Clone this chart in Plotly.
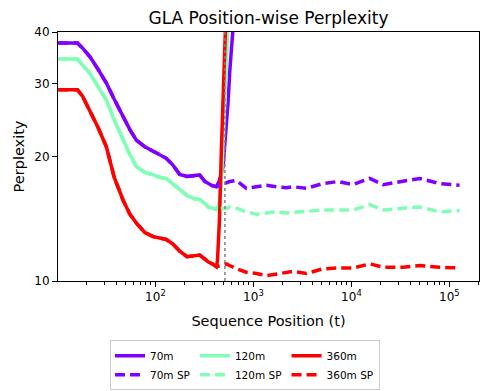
import plotly.graph_objects as go

# positions before the training context (solid and SP share these)
x_early = [10.2, 16, 18, 21.4, 26, 31.6, 38, 46.7, 55, 64, 78, 95, 112, 129, 150,
           177, 210, 250, 283, 320, 344, 380, 419]
ppl_70m_early = [37.6, 37.6, 36.6, 34.9, 32.5, 30.1, 27.5, 25.0, 23.2, 21.9, 21.1, 20.6,
                 20.2, 19.8, 19.1, 18.1, 17.9, 18.0, 18.05, 17.4, 17.2, 17.0, 16.9]
ppl_120m_early = [34.4, 34.4, 33.3, 31.8, 29.5, 27.4, 24.5, 21.9, 20.2, 18.9, 18.3, 18.05,
                  17.8, 17.7, 17.2, 16.6, 16.1, 15.8, 15.75, 15.4, 15.1, 15.0, 14.9]
ppl_360m_early = [29.0, 29.0, 28.0, 25.9, 23.5, 21.1, 17.8, 15.7, 14.5, 13.8, 13.1, 12.8,
                  12.7, 12.6, 12.3, 11.8, 11.45, 11.5, 11.55, 11.3, 11.13, 11.0, 10.83]

# solid lines blow up past the context length
x_spike_70m = [450, 490, 520, 551, 573, 620, 700]
ppl_70m_spike = [17.5, 18.9, 22.5, 27.0, 32.0, 40.0, 60.0]
x_spike_120m = [440, 470, 500, 530, 550, 600]
ppl_120m_spike = [15.2, 17.0, 24.0, 34.0, 42.0, 70.0]
x_spike_360m = [430, 450, 471, 495, 521, 560]
ppl_360m_spike = [11.2, 14.0, 20.7, 30.0, 40.0, 70.0]

# SP continuation out to 128k
x_late = [530, 573, 670, 849, 1075, 1360, 1720, 2170, 2540, 3475, 5130, 7300, 10370,
          15400, 21000, 33650, 49800, 79600, 127000]
ppl_70m_late = [17.3, 17.4, 17.5, 16.75, 16.9, 17.05, 16.9, 16.8, 16.9, 16.75, 17.2, 17.4,
                17.1, 17.7, 17.1, 17.4, 17.7, 17.2, 17.05]
ppl_120m_late = [15.0, 15.1, 15.0, 14.7, 14.5, 14.6, 14.7, 14.6, 14.65, 14.7, 14.85, 14.85,
                 14.85, 15.3, 14.85, 15.0, 15.1, 14.7, 14.8]
ppl_360m_late = [11.0, 10.9, 10.7, 10.5, 10.43, 10.3, 10.4, 10.5, 10.55, 10.43, 10.7, 10.75,
                 10.75, 11.0, 10.8, 10.8, 10.9, 10.8, 10.75]

context_len = 512
y_ticks = [10, 20, 30, 40]
x_ticks = [100, 1000, 10000, 100000]
x_ticktext = ["10<sup>2</sup>", "10<sup>3</sup>", "10<sup>4</sup>", "10<sup>5</sup>"]

models = ["70m", "120m", "360m"]
colors = {"70m": "#8000ff", "120m": "#80ffb4", "360m": "#ff0000"}
early = {"70m": ppl_70m_early, "120m": ppl_120m_early, "360m": ppl_360m_early}
spike_x = {"70m": x_spike_70m, "120m": x_spike_120m, "360m": x_spike_360m}
spike_y = {"70m": ppl_70m_spike, "120m": ppl_120m_spike, "360m": ppl_360m_spike}
late = {"70m": ppl_70m_late, "120m": ppl_120m_late, "360m": ppl_360m_late}

fig = go.Figure()
for m in models:
    fig.add_trace(go.Scatter(x=x_early + spike_x[m], y=early[m] + spike_y[m], mode="lines",
                             name=m, legendgroup=m,
                             line=dict(color=colors[m], width=3.5)))
for m in models:
    fig.add_trace(go.Scatter(x=x_early + x_late, y=early[m] + late[m], mode="lines",
                             name=m + " SP", legendgroup=m,
                             line=dict(color=colors[m], width=3.5, dash="10px,5px")))

fig.add_trace(go.Scatter(x=[context_len, context_len], y=[y_ticks[0], y_ticks[-1]],
                         mode="lines", showlegend=False, hoverinfo="skip",
                         line=dict(color="gray", width=1.5, dash="dot")))

minor_x = [m * 10 ** d for d in range(1, 6) for m in range(2, 10)]

fig.update_layout(
    width=490, height=391,
    margin=dict(l=58, r=11, t=32, b=110, autoexpand=False),
    paper_bgcolor="white", plot_bgcolor="white",
    font=dict(family="DejaVu Sans", color="black", size=12),
    title=dict(text="GLA Position-wise Perplexity", x=0.548, xanchor="center",
               y=0.954, yanchor="middle", font=dict(size=17)),
    legend=dict(orientation="h", traceorder="grouped", tracegroupgap=24, itemwidth=30,
                xref="container", yref="container",
                x=0.5, xanchor="center", y=0.13, yanchor="top",
                bordercolor="#cccccc", borderwidth=1, font=dict(size=10.5)),
)
fig.update_xaxes(type="log", range=[1.006, 5.302], tickvals=x_ticks, ticktext=x_ticktext,
                 showline=True, linecolor="black", mirror=True, showgrid=False,
                 ticks="outside", ticklen=5, tickcolor="black", automargin=False,
                 minor=dict(tickvals=minor_x, ticks="outside", ticklen=3, tickcolor="black"),
                 title=dict(text="Sequence Position (t)", font=dict(size=14.5), standoff=12))
fig.update_yaxes(type="log", range=[1, 1.60206], tickvals=y_ticks,
                 showline=True, linecolor="black", mirror=True, showgrid=False,
                 ticks="outside", ticklen=5, tickcolor="black", automargin=False,
                 title=dict(text="Perplexity", font=dict(size=14.5), standoff=6))

# drop the default page margin so the figure fills the window
fig.write_html("out.html", config={"displayModeBar": False},
               post_script="document.body.style.margin='0';")
